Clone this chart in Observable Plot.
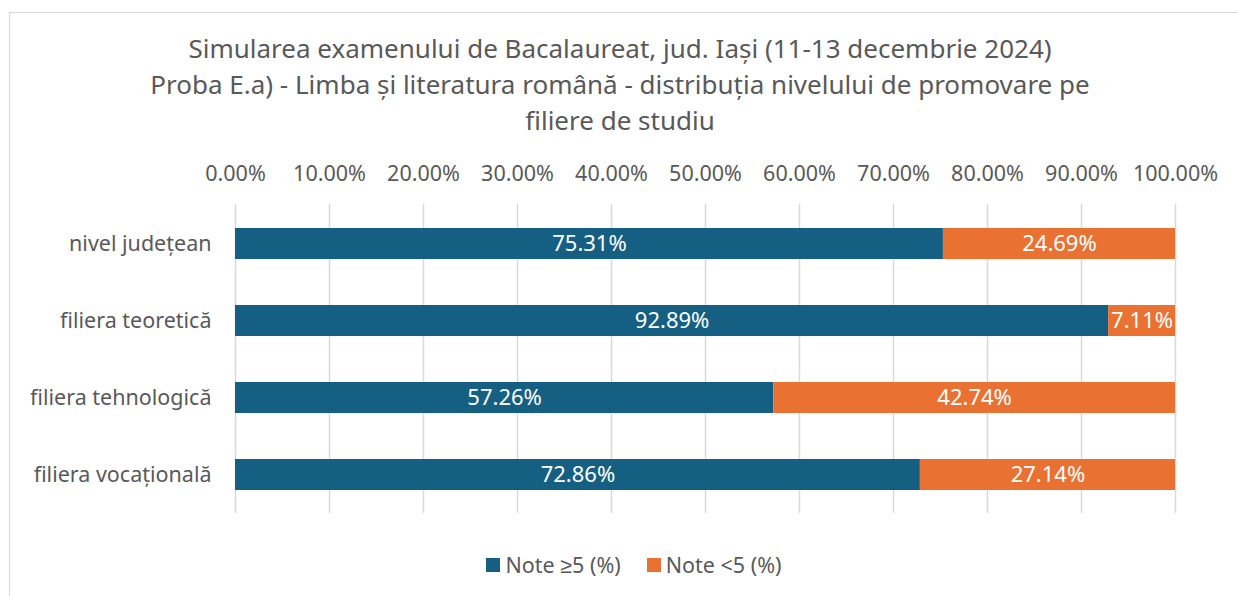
<!DOCTYPE html>
<html>
<head>
<meta charset="utf-8">
<script src="https://cdn.jsdelivr.net/npm/d3@7"></script>
<script src="https://cdn.jsdelivr.net/npm/@observablehq/plot@0.6"></script>
<style>
  html, body { margin: 0; padding: 0; background: #fff; width: 1238px; height: 596px; overflow: hidden; }
  body { font-family: "Noto Sans", sans-serif; color: #595959; position: relative; }
  #frame { position: absolute; left: 9px; top: 12px; width: 1400px; height: 800px; border: 1.5px solid #d9d9d9; box-sizing: border-box; }
  #title { position: absolute; left: 0; top: 30px; width: 1240px; text-align: center; font-size: 26px; line-height: 36px; color: #595959; }
  #chart { position: absolute; left: 0; top: 140px; }
  #legend { position: absolute; left: 0; top: 550px; width: 1268px; display: flex; justify-content: center; gap: 26px; font-size: 21.5px; color: #595959; }
  .item { display: flex; align-items: center; gap: 5px; }
  .sw { width: 14px; height: 14px; display: inline-block; }
</style>
</head>
<body>
<div id="frame"></div>
<div id="title">Simularea examenului de Bacalaureat, jud. Iași (11-13 decembrie 2024)<br>Proba E.a) - Limba și literatura română - distribuția nivelului de promovare pe<br>filiere de studiu</div>
<div id="chart"></div>
<div id="legend"></div>
<script>
const categories = ["nivel județean", "filiera teoretică", "filiera tehnologică", "filiera vocațională"];
const seriesNames = ["Note ≥5 (%)", "Note <5 (%)"];
const seriesColors = ["#156082", "#E97132"];
const passValues = [75.31, 92.89, 57.26, 72.86];
const failValues = [24.69, 7.11, 42.74, 27.14];
const xTicks = [0, 10, 20, 30, 40, 50, 60, 70, 80, 90, 100];

const data = [];
categories.forEach((c, i) => {
  data.push({cat: c, series: seriesNames[0], value: passValues[i]});
  data.push({cat: c, series: seriesNames[1], value: failValues[i]});
});

const chart = Plot.plot({
  width: 1238,
  height: 390,
  marginLeft: 235,
  marginRight: 63,
  marginTop: 64,
  marginBottom: 17,
  style: {fontFamily: "Noto Sans, sans-serif", fontSize: "21px", color: "#595959", background: "transparent"},
  x: {domain: [0, 100], ticks: xTicks, axis: null},
  y: {domain: categories, paddingInner: 0.6, paddingOuter: 0.3, axis: null},
  color: {domain: seriesNames, range: seriesColors},
  marks: [
    Plot.gridX(xTicks, {stroke: "#d9d9d9", strokeOpacity: 1, strokeWidth: 1.5}),
    Plot.axisX(xTicks, {anchor: "top", label: null, tickSize: 0, tickPadding: 24, tickFormat: d => d.toFixed(2) + "%", fontSize: 21.5, fill: "#595959"}),
    Plot.axisY({label: null, tickSize: 0, tickPadding: 24, fontSize: 21.5, fill: "#595959"}),
    Plot.barX(data, Plot.stackX({x: "value", y: "cat", fill: "series", z: "series", order: seriesNames})),
    Plot.text(data, Plot.stackX({x: "value", y: "cat", z: "series", order: seriesNames, text: d => d.value.toFixed(2) + "%", fill: "white", fontSize: 22}))
  ]
});
document.getElementById("chart").appendChild(chart);

const legend = document.getElementById("legend");
seriesNames.forEach((s, i) => {
  const item = document.createElement("div");
  item.className = "item";
  const sw = document.createElement("span");
  sw.className = "sw";
  sw.style.background = seriesColors[i];
  const t = document.createElement("span");
  t.textContent = s;
  item.appendChild(sw);
  item.appendChild(t);
  legend.appendChild(item);
});
</script>
</body>
</html>
